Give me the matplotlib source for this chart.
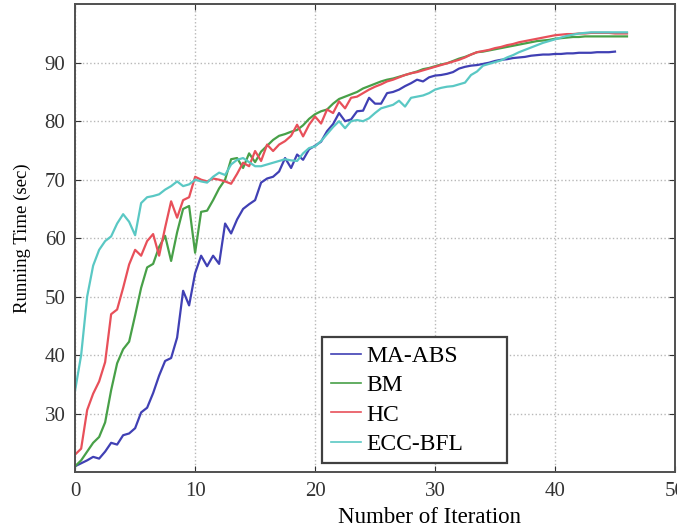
import numpy as np
import matplotlib
matplotlib.use('Agg')
import matplotlib.pyplot as plt

# Times-like look
plt.rcParams['font.family'] = ['Liberation Serif', 'DejaVu Serif']

# iteration grid (half steps)
iters = np.arange(0, 46.5, 0.5)

ma_abs = [21.0, 21.5, 22.0, 22.6, 22.3, 23.5, 25.0, 24.7, 26.3, 26.6,
          27.5, 30.2, 31.0, 33.5, 36.5, 39.0, 39.5, 43.0, 51.0, 48.5,
          54.0, 57.0, 55.2, 57.0, 55.6, 62.5, 60.8, 63.2, 65.0, 65.8,
          66.5, 69.5, 70.2, 70.5, 71.4, 73.7, 72.0, 74.3, 73.4, 75.2,
          75.8, 76.5, 78.3, 79.5, 81.4, 80.0, 80.3, 81.7, 81.8, 84.0,
          83.0, 83.0, 84.8, 85.0, 85.4, 86.0, 86.5, 87.1, 86.8, 87.5,
          87.8, 87.9, 88.1, 88.4, 89.0, 89.3, 89.5, 89.6, 89.8, 90.0,
          90.3, 90.5, 90.6, 90.8, 90.9, 91.0, 91.2, 91.3, 91.4, 91.4,
          91.5, 91.5, 91.6, 91.6, 91.7, 91.7, 91.7, 91.8, 91.8, 91.8,
          91.9]

bm = [21.0, 22.0, 23.5, 25.0, 26.0, 28.5, 34.0, 38.6, 41.0, 42.3,
      46.8, 51.5, 55.0, 55.6, 58.5, 60.4, 56.1, 61.0, 65.0, 65.5,
      57.5, 64.5, 64.7, 66.5, 68.5, 70.0, 73.5, 73.7, 72.0, 74.5,
      73.0, 74.8, 75.8, 76.8, 77.5, 77.8, 78.2, 78.5, 79.3, 80.4,
      81.2, 81.7, 82.0, 83.0, 83.8, 84.2, 84.6, 85.0, 85.6, 86.0,
      86.4, 86.8, 87.1, 87.3, 87.6, 87.9, 88.2, 88.5, 88.9, 89.1,
      89.4, 89.7, 89.9, 90.3, 90.7, 91.0, 91.4, 91.8, 91.9, 92.1,
      92.3, 92.5, 92.7, 92.9, 93.1, 93.3, 93.5, 93.7, 93.8, 93.9,
      94.1, 94.2, 94.3, 94.4, 94.4, 94.5, 94.5, 94.5, 94.5, 94.5,
      94.5, 94.5, 94.5]

hc = [23.0, 24.0, 30.6, 33.4, 35.5, 38.8, 47.0, 47.8, 51.5, 55.5,
      58.0, 57.0, 59.5, 60.7, 57.0, 61.8, 66.3, 63.5, 66.5, 67.0,
      70.5, 70.0, 69.7, 70.2, 70.0, 69.7, 69.3, 71.0, 72.9, 72.3,
      74.9, 73.2, 76.0, 74.9, 76.0, 76.6, 77.5, 79.4, 77.4, 79.4,
      80.8, 79.6, 82.0, 81.4, 83.4, 82.2, 84.0, 84.2, 84.8, 85.4,
      85.9, 86.3, 86.8, 87.1, 87.5, 87.9, 88.2, 88.4, 88.7, 89.0,
      89.3, 89.6, 89.9, 90.2, 90.5, 90.9, 91.4, 91.8, 92.0, 92.2,
      92.5, 92.7, 93.0, 93.2, 93.5, 93.7, 93.9, 94.1, 94.3, 94.5,
      94.7, 94.8, 94.9, 94.9, 95.0, 95.0, 95.1, 95.1, 95.1, 95.1,
      95.0, 95.0, 95.0]

ecc_bfl = [34.0, 40.0, 50.0, 55.3, 58.0, 59.5, 60.3, 62.5, 64.1, 62.8,
           60.5, 66.0, 67.0, 67.2, 67.5, 68.3, 68.9, 69.7, 68.9, 69.2,
           70.0, 69.7, 69.5, 70.5, 71.2, 70.8, 72.6, 73.4, 73.7, 73.0,
           72.3, 72.3, 72.6, 72.9, 73.2, 73.5, 73.3, 73.2, 74.5, 75.4,
           75.7, 76.6, 77.8, 79.0, 80.0, 78.8, 80.0, 80.2, 80.0, 80.5,
           81.4, 82.2, 82.5, 82.8, 83.5, 82.5, 84.0, 84.2, 84.4, 84.8,
           85.4, 85.7, 85.9, 86.0, 86.3, 86.6, 87.9, 88.5, 89.5, 89.8,
           90.1, 90.4, 90.9, 91.3, 91.8, 92.2, 92.6, 93.0, 93.4, 93.7,
           94.0, 94.3, 94.6, 94.8, 95.0, 95.1, 95.2, 95.2, 95.2, 95.2,
           95.2, 95.2, 95.2]

labels = ['MA-ABS', 'BM', 'HC', 'ECC-BFL']
colors = ['#4040b4', '#48a048', '#e8505a', '#5ac8c4']
xticks = [0, 10, 20, 30, 40, 50]
yticks = [30, 40, 50, 60, 70, 80, 90]

fig = plt.figure(figsize=(6.77, 5.31), dpi=100)
ax = fig.add_axes([0.111, 0.111, 0.886, 0.881])

series = [ma_abs, bm, hc, ecc_bfl]
for vals, lab, col in zip(series, labels, colors):
    ax.plot(iters[:len(vals)], vals, color=col, lw=1.6, label=lab)

ax.set_xlim(0, 50)
ax.set_ylim(20, 100)
ax.set_xticks(xticks)
ax.set_yticks(yticks)
ax.tick_params(direction='in', top=True, right=True, labelsize=15,
               length=4, colors='#333333', pad=7)
ax.grid(True, linestyle=':', color='#b8b8b8', lw=1.0)
for s in ax.spines.values():
    s.set_color('#505050')
    s.set_linewidth(1.4)

ax.set_xlabel('Number of Iteration', fontsize=16.5)
# label sits right of centre in the original
ax.xaxis.set_label_coords(0.59, -0.075)
ax.set_ylabel('Running Time (sec)', fontsize=13.5, labelpad=10)

leg = ax.legend(loc='lower left', bbox_to_anchor=(0.412, 0.019, 0.308, 0.2),
                mode='expand', borderaxespad=0, fontsize=17, fancybox=False,
                framealpha=1, edgecolor='#404040', handlelength=1.3,
                handletextpad=0.2, labelspacing=0.33, borderpad=0.35)
leg.get_frame().set_linewidth(1.6)
for h in leg.get_lines():
    h.set_linewidth(1.2)

fig.savefig('out.png', dpi=100)
